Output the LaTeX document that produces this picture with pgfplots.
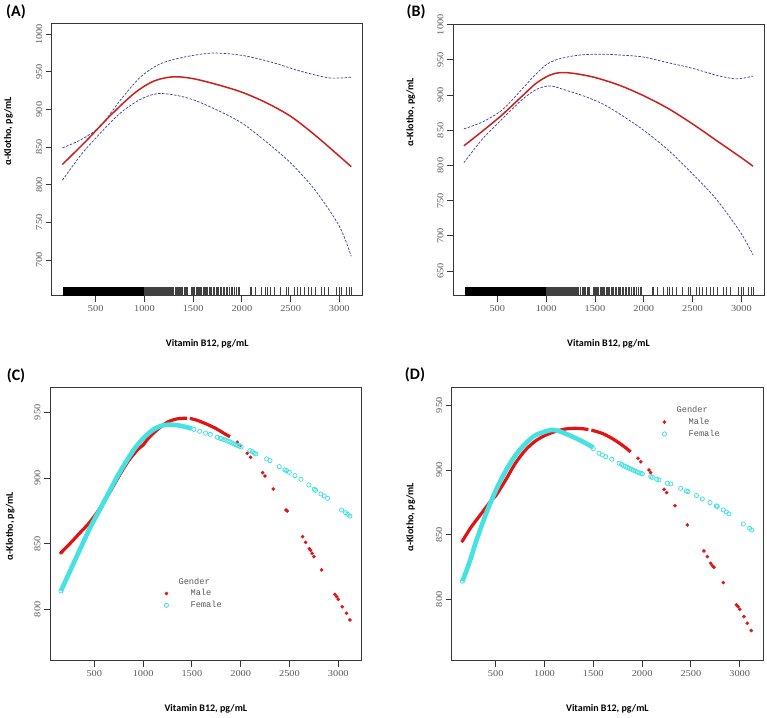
\documentclass[border=0pt]{standalone}
\usepackage{fontspec}
\setmainfont{Carlito}
\newfontfamily\tickfont[FakeStretch=1.15]{Liberation Serif}
\newfontfamily\legfont{Liberation Mono}
\usepackage{pgfplots}
\usepackage{pgfplotstable}
\pgfplotsset{compat=1.18}

\definecolor{rcurve}{RGB}{205,30,30}
\definecolor{cidash}{RGB}{55,55,150}
\definecolor{maleRed}{RGB}{225,20,20}
\definecolor{femCyan}{RGB}{70,225,225}
\definecolor{axgray}{RGB}{55,55,55}
\definecolor{tickgray}{RGB}{90,90,90}

\pgfplotsset{
  panel/.style={
    scale only axis, anchor=south west,
    axis line style={axgray, line width=0.8pt},
    tick style={axgray, line width=0.8pt},
    tick align=outside, major tick length=6pt,
    xtick pos=left, ytick pos=left,
    xtick={500,1000,...,3000},
    ticklabel style={font=\tickfont\fontsize{9}{10}\selectfont, text=tickgray},
    yticklabel style={rotate=90, anchor=south},
    /pgf/number format/1000 sep={},
    /pgf/number format/assume math mode=true,
    xlabel={Vitamin B12, pg/mL},
    ylabel={α-Klotho, pg/mL},
    label style={font=\bfseries\fontsize{10}{12}\selectfont},
    xlabel style={at={(axis description cs:0.5,-0.176)}, anchor=center},
  },
  fit/.style={rcurve, line width=1.5pt, smooth},
  ci/.style={cidash, line width=0.7pt, dash pattern=on 2.5pt off 1.5pt, smooth},
  rug/.style={only marks, mark=|, mark size=4.2pt, black!75, mark options={line width=0.6pt}},
  male/.style={only marks, mark=*, mark size=1.6pt, maleRed, mark options={draw=maleRed, fill=maleRed}},
  female/.style={only marks, mark=o, mark size=2.1pt, femCyan, mark options={line width=0.8pt}},
  gleg/.style={legend cell align=left,
    legend style={draw=none, fill=none, anchor=center,
      font=\legfont\fontsize{8.7}{10}\selectfont, text=tickgray,
      row sep=0pt, /tikz/every odd column/.append style={column sep=8pt}}},
}

% rug positions (x) above 1000; below 1000 the rug is a solid block
\pgfplotstableread{
x h
1003 0
1010 0
1016 0
1022 0
1030 0
1037 0
1045 0
1052 0
1060 0
1068 0
1075 0
1083 0
1090 0
1098 0
1105 0
1113 0
1120 0
1128 0
1136 0
1143 0
1150 0
1160 0
1168 0
1176 0
1185 0
1193 0
1200 0
1210 0
1220 0
1228 0
1237 0
1245 0
1255 0
1265 0
1275 0
1283 0
1292 0
1300 0
1312 0
1322 0
1333 0
1345 0
1355 0
1368 0
1380 0
1392 0
1405 0
1418 0
1430 0
1440 0
1485 0
1495 0
1505 0
1515 0
1527 0
1538 0
1550 0
1562 0
1575 0
1588 0
1600 0
1612 0
1625 0
1638 0
1650 0
1665 0
1678 0
1690 0
1705 0
1720 0
1735 0
1748 0
1762 0
1778 0
1792 0
1808 0
1822 0
1838 0
1855 0
1870 0
1888 0
1905 0
1922 0
1940 0
1960 0
1978 0
2083 0
2100 0
2135 0
2203 0
2237 0
2265 0
2290 0
2330 0
2391 0
2460 0
2473 0
2535 0
2570 0
2600 0
2640 0
2680 0
2715 0
2750 0
2819 0
2850 0
2884 0
2973 0
3000 0
3024 0
3076 0
3100 0
3127 0
}\rugdata

\begin{document}
\begin{tikzpicture}
\useasboundingbox (0,0) rectangle (767pt,717pt);

% ---------------- (A)
\begin{axis}[panel, at={(51.7pt,421.3pt)}, width=311pt, height=272.4pt,
  xmin=48, xmax=3240, ymin=652.5, ymax=1014.6, ytick={700,750,...,1000},
  ylabel style={at={(axis description cs:-0.139,0.603)}, anchor=center}]
\addplot[fill=black, draw=none] coordinates {(165,652.5) (1000,652.5) (1000,663.7) (165,663.7)} -- cycle;
\addplot[rug] table[x=x, y expr=658.1] {\rugdata};
\addplot[ci] coordinates {(158,849) (350,860) (550,878) (750,912) (950,942) (1150,960) (1400,969.5) (1700,975) (2000,972) (2300,963) (2600,951) (2900,942) (3122,943)};
\addplot[ci] coordinates {(158,806) (350,840) (550,869) (750,895) (950,913) (1125,921) (1300,919.5) (1500,913) (1750,899) (2000,882) (2250,857) (2500,829) (2750,793) (3000,745) (3122,705)};
\addplot[fit] coordinates {(158,827) (400,858) (650,892) (900,922) (1100,938) (1300,943.5) (1500,941) (1750,933) (2000,923) (2250,909) (2500,891) (2750,866) (3000,838) (3122,824)};
\end{axis}

% ---------------- (B)
\begin{axis}[panel, at={(453pt,421.3pt)}, width=311pt, height=271.7pt,
  xmin=46, xmax=3232, ymin=615, ymax=1001, ytick={650,700,...,1000},
  ylabel style={at={(axis description cs:-0.136,0.676)}, anchor=center}]
\addplot[fill=black, draw=none] coordinates {(165,615) (1000,615) (1000,627) (165,627)} -- cycle;
\addplot[rug] table[x=x, y expr=621] {\rugdata};
\addplot[ci] coordinates {(158,852) (350,862) (550,879) (750,908) (875,927) (1000,943) (1100,950) (1250,955) (1400,957.5) (1600,958) (1800,956.5) (2000,954) (2250,946) (2500,938) (2750,928) (2950,923) (3119,927)};
\addplot[ci] coordinates {(158,804) (350,838) (550,866) (750,893) (900,908) (1040,913) (1200,907) (1400,898) (1600,886) (1800,869) (2000,850) (2250,822) (2500,788) (2750,751) (3000,703) (3119,673)};
\addplot[fit] coordinates {(158,828) (350,849) (550,872) (750,898) (900,917) (1040,928.5) (1150,932) (1300,930.5) (1500,925) (1750,914) (2000,899) (2250,881) (2500,859) (2750,835) (3000,811) (3119,799)};
\end{axis}

% ---------------- (C)
\begin{axis}[panel, gleg, at={(50pt,56.3pt)}, width=311.7pt, height=273pt,
  xmin=46, xmax=3240, ymin=760.9, ymax=968.7, ytick={800,850,900,950},
  ylabel style={at={(axis description cs:-0.128,0.493)}, anchor=center},
  legend style={at={(axis description cs:0.452,0.246)}}]
\addlegendimage{empty legend}
\addlegendentry[xshift=-12pt]{Gender}
\addplot[maleRed, line width=3.2pt, smooth, forget plot] coordinates {(158,843) (250,850) (350,858) (450,866) (550,876) (650,888) (750,901) (850,913) (950,922) (1000,925) (1050,930) (1150,937) (1250,942.5) (1350,945) (1450,945.5)};
\addplot[maleRed, line width=3.2pt, smooth, forget plot] coordinates {(1480,945.3) (1550,944) (1650,941) (1750,937.5) (1850,933) (1890,931.5)};
\addplot[male] coordinates {(158,843) (1965,927.2) (1992,924.9) (2067,918.8) (2101,915.7) (2225,904) (2249,901.5) (2334,891.6) (2464,875.6) (2477,874.9) (2634,855.3) (2665,851) (2703,846.2) (2716,844.9) (2733,842.6) (2750,840.1) (2829,830) (2966,811.4) (2983,809.7) (3000,807.6) (3041,802) (3085,797) (3119,791.9)};
\addlegendentry{Male}
\addplot[femCyan, line width=4.6pt, smooth, forget plot] coordinates {(158,814) (300,837) (450,861) (600,882) (750,903) (900,921) (1000,930) (1100,936.5) (1200,940) (1300,940.5) (1400,939.5) (1500,937.5)};
\addplot[female] coordinates {(158,814) (1521,937) (1580,935.5) (1640,934.2) (1688,933.2) (1760,931) (1790,930.2) (1805,930) (1830,929.2) (1850,928.6) (1870,928) (1890,927.4) (1910,926.7) (1930,926) (1950,925.3) (1970,924.7) (1990,924.1) (2005,923.6) (2095,920.8) (2119,920) (2139,918.8) (2156,918.3) (2266,914.5) (2300,913.2) (2395,908.6) (2453,906.1) (2470,905.6) (2498,904.3) (2556,901.8) (2617,899) (2699,894.7) (2754,891.4) (2768,890.6) (2822,887.8) (2856,886.3) (2890,884.5) (3034,875.6) (3075,873.6) (3095,872.3) (3119,871)};
\addlegendentry{Female}
\end{axis}

% ---------------- (D)
\begin{axis}[panel, gleg, at={(451.7pt,56.3pt)}, width=311.3pt, height=273pt,
  xmin=49, xmax=3239, ymin=752.5, ymax=963.6, ytick={800,850,900,950},
  ylabel style={at={(axis description cs:-0.132,0.525)}, anchor=center},
  legend style={at={(axis description cs:0.762,0.874)}}]
\addlegendimage{empty legend}
\addlegendentry[xshift=-12pt]{Gender}
\addplot[maleRed, line width=3.2pt, smooth, forget plot] coordinates {(158,845) (250,856) (350,866) (450,876) (500,880) (600,892) (700,905) (800,915) (900,922) (1000,926.5) (1100,929.5) (1200,931.5) (1300,932.2) (1400,931.8) (1450,931.2)};
\addplot[maleRed, line width=3.2pt, smooth, forget plot] coordinates {(1480,930.8) (1500,930.4) (1600,928) (1700,924) (1800,919) (1883,914)};
\addplot[male] coordinates {(158,845) (1958,909) (1986,906.4) (2071,900) (2088,897.9) (2225,885) (2252,882.5) (2337,872.4) (2464,857.5) (2634,837.4) (2669,833) (2703,827.8) (2720,826) (2737,824.8) (2832,812.9) (2966,795.6) (2983,794.3) (3000,792.3) (3044,786.6) (3078,781.5) (3119,775.8)};
\addlegendentry{Male}
\addplot[femCyan, line width=4.6pt, smooth, forget plot] coordinates {(158,814) (200,822) (250,833) (300,845) (400,866) (500,884) (600,899) (700,911) (800,920) (900,926.5) (1000,929.5) (1080,931) (1150,930) (1250,927) (1350,923.5) (1450,919.5) (1500,917.3)};
\addplot[female] coordinates {(158,814) (1500,916.5) (1559,912.9) (1593,911.6) (1627,910.3) (1689,908.3) (1764,905.2) (1790,904.3) (1808,903.4) (1830,902.6) (1850,901.9) (1870,901.2) (1890,900.5) (1910,899.8) (1930,899.1) (1950,898.4) (1970,897.8) (1990,897.4) (2003,897) (2088,894.9) (2105,894.3) (2149,892.8) (2173,892.3) (2259,889.7) (2293,889.2) (2395,885.8) (2453,883.8) (2470,883.3) (2556,880.2) (2617,877.6) (2696,874.8) (2761,872.2) (2771,871.7) (2832,869.1) (2863,867.5) (2890,866) (3037,858.3) (3102,854.9) (3122,853.6)};
\addlegendentry{Female}
\end{axis}

\node[font=\bfseries\fontsize{16}{18}\selectfont] at (16pt,705pt) {(A)};
\node[font=\bfseries\fontsize{16}{18}\selectfont] at (416pt,705pt) {(B)};
\node[font=\bfseries\fontsize{16}{18}\selectfont] at (16pt,341pt) {(C)};
\node[font=\bfseries\fontsize{16}{18}\selectfont] at (415pt,342pt) {(D)};
\end{tikzpicture}
\end{document}
